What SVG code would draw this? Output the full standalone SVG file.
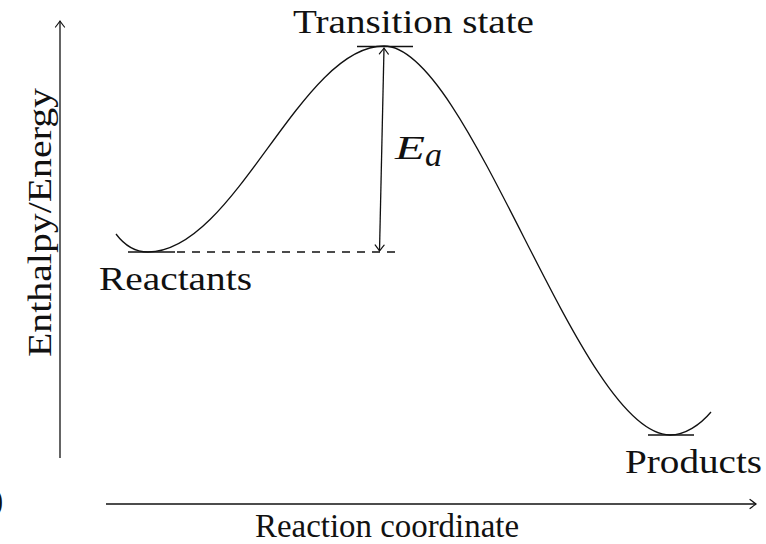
<svg xmlns="http://www.w3.org/2000/svg" width="766" height="544" viewBox="0 0 766 544">
<style>
.ln{fill:none;stroke:#111;stroke-width:1.3}
.lbl{font-family:"Liberation Serif","Times New Roman",serif;font-size:34px;fill:#111}
.it{font-style:italic}
</style>
<defs>
<marker id="ah" viewBox="-8 -6 10 12" markerWidth="10" markerHeight="12" refX="0" refY="0" orient="auto-start-reverse" markerUnits="userSpaceOnUse">
<path d="M-6,-4.5 Q-1.5,-1 0,0 Q-1.5,1 -6,4.5" fill="none" stroke="#111" stroke-width="1.2" stroke-linecap="round"/>
</marker>
</defs>
<rect width="766" height="544" fill="#fff"/>
<g id="connectors">
<line class="ln" x1="60" y1="458" x2="60" y2="21" marker-end="url(#ah)"/>
<line class="ln" x1="106" y1="504" x2="756" y2="504" marker-end="url(#ah)"/>
<path id="curve" class="ln" d="M116,234 C125,246 135,252 148,252 C235,252 300,46 384,46 C470,46 580,435 670,435 C685,435 700,425 711,412"/>
<line class="ln" x1="128" y1="252" x2="175" y2="252"/>
<line class="ln" x1="177" y1="252" x2="396" y2="252" stroke-dasharray="8 7"/>
<line class="ln" x1="357" y1="46.5" x2="413" y2="46.5"/>
<line class="ln" x1="648" y1="435" x2="694" y2="435"/>
<line class="ln" x1="384" y1="48" x2="379.5" y2="251" marker-start="url(#ah)" marker-end="url(#ah)"/>
</g>
<g id="ts"><text class="lbl" x="293" y="33" textLength="241" lengthAdjust="spacingAndGlyphs">Transition state</text></g>
<g id="reactants"><text class="lbl" x="99" y="290" textLength="153" lengthAdjust="spacingAndGlyphs">Reactants</text></g>
<g id="products"><text class="lbl" x="625" y="473" textLength="137" lengthAdjust="spacingAndGlyphs">Products</text></g>
<g id="xlabel"><text class="lbl" x="255" y="537" textLength="264" lengthAdjust="spacingAndGlyphs">Reaction coordinate</text></g>
<g id="ylabel"><text class="lbl" transform="translate(51,357) rotate(-90)" x="0" y="0" textLength="269" lengthAdjust="spacingAndGlyphs">Enthalpy/Energy</text></g>
<g id="ea"><text class="lbl it" x="395" y="159" font-size="32" textLength="30" lengthAdjust="spacingAndGlyphs">E</text><text class="lbl it" x="425" y="166" font-size="24">a</text></g>
<g id="paren"><text class="lbl" x="-8" y="511" font-size="60">)</text></g>
</svg>
